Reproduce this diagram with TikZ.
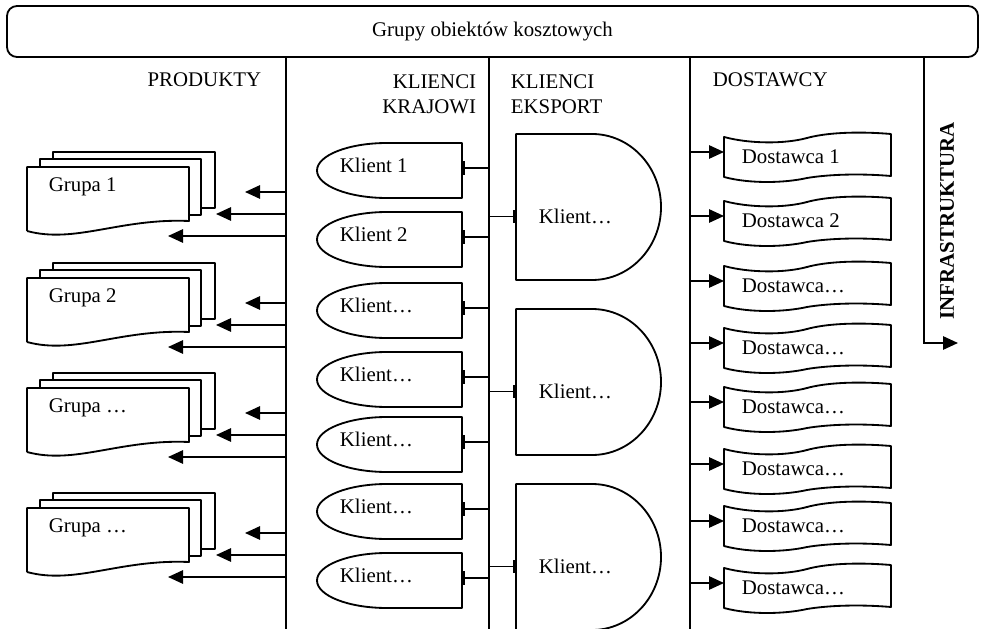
\documentclass[tikz,border=0pt]{standalone}
\usepackage{fontspec}
\setmainfont{Liberation Serif}
\usepackage{tikz}
\usetikzlibrary{arrows.meta}

\begin{document}
\begin{tikzpicture}[x=0.6pt, y=0.6pt, line width=1.1pt,
    font=\fontsize{12.5}{15}\selectfont,
    lbl/.style={inner sep=0pt},
    shp/.style={draw, fill=white, line join=round},
    arr/.style={-{Triangle[length=9pt, width=8pt]}},
    bar/.style={-{Rectangle[length=1.8pt, width=8pt]}}]
    \useasboundingbox (0,0) rectangle (982,-629);

    % naglowek
    \node[draw, rounded corners=6pt, minimum width=582.6pt, minimum height=30.6pt] (top) at (492.5,-31.5) {Grupy obiektów kosztowych};
    \coordinate (l1) at (286,-629);
    \coordinate (l2) at (489,-629);
    \coordinate (l3) at (690,-629);
    \coordinate (l4) at (924,-343);
    \draw (top.south -| l1) -- (l1);
    \draw (top.south -| l2) -- (l2);
    \draw (top.south -| l3) -- (l3);
    \draw[arr] (top.south -| l4) -- (l4) -- ++(34,0);

    \node[lbl, anchor=east] (prod) at (262,-80) {PRODUKTY};
    \node[lbl, anchor=east, align=right] (kraj) at (477,-94.5) {KLIENCI\\KRAJOWI};
    \node[lbl, anchor=west, align=left] (eksp) at (510,-94.5) {KLIENCI\\EKSPORT};
    \node[lbl, anchor=west] (dost) at (712,-80) {DOSTAWCY};
    \node[lbl, rotate=90, font=\fontsize{12.5}{15}\selectfont\bfseries] (infra) at (947,-221) {INFRASTRUKTURA};

    % produkty
    \foreach \t/\txt [count=\i] in {152/Grupa 1, 263/Grupa 2, 373/Grupa …, 493/Grupa …} {
        \draw[shp] (53,-\t-7) -- (53,-\t) -- (215,-\t) -- (215,-\t-56) -- (201,-\t-56);
        \draw[shp] (40,-\t-15) -- (40,-\t-7) -- (201,-\t-7) -- (201,-\t-63) -- (189,-\t-63);
        \draw[shp] (27,-\t-79) -- (27,-\t-15) -- (189,-\t-15) -- (189,-\t-69)
            .. controls (120,-\t-66) and (75,-\t-92) .. (27,-\t-79);
        \node[lbl, anchor=west] (grp\i) at (48,-\t-35) {\txt};
        \coordinate (pa\i) at (286,-\t-40);
        \coordinate (pb\i) at (286,-\t-62);
        \coordinate (pc\i) at (286,-\t-84);
        \draw[arr] (pa\i) -- ++(-41,0);
        \draw[arr] (pb\i) -- ++(-70,0);
        \draw[arr] (pc\i) -- ++(-118,0);
    }

    % klienci krajowi
    \foreach \t/\txt [count=\i] in {143/Klient 1, 212/Klient 2, 283/Klient…, 352/Klient…, 417/Klient…, 484/Klient…, 553/Klient…} {
        \draw[shp] (462,-\t) -- (387,-\t) arc[start angle=90, end angle=270, x radius=70, y radius=27.5] -- (462,-\t-55) -- cycle;
        \node[lbl, anchor=west] (kk\i) at (339,-\t-22) {\txt};
        \coordinate (kke\i) at (462,-\t-25);
        \draw[bar] (l2 |- kke\i) -- (kke\i);
    }

    % klienci eksport
    \foreach \t [count=\i] in {134, 309, 484} {
        \draw[shp] (516,-\t) -- (592,-\t) arc[start angle=90, end angle=-90, x radius=69, y radius=73] -- (516,-\t-146) -- cycle;
        \node[lbl, anchor=west] (ke\i) at (538,-\t-82) {Klient…};
        \coordinate (kew\i) at (516,-\t-82.5);
        \draw[bar] (l2 |- kew\i) -- (kew\i);
    }

    % dostawcy
    \foreach \t/\txt [count=\i] in {132/Dostawca 1, 196/Dostawca 2, 261/Dostawca…, 323/Dostawca…, 382/Dostawca…, 444/Dostawca…, 501/Dostawca…, 563/Dostawca…} {
        \draw[shp] (724,-\t-5) .. controls (750,-\t-12) and (785,-\t-12) .. (807,-\t-6)
            .. controls (825,-\t-1) and (855,-\t+1) .. (891,-\t-2) -- (891,-\t-44)
            .. controls (855,-\t-41) and (825,-\t-43) .. (807,-\t-46)
            .. controls (785,-\t-51) and (750,-\t-52) .. (724,-\t-45) -- cycle;
        \node[lbl, anchor=west] (ds\i) at (741,-\t-25) {\txt};
        \coordinate (dw\i) at (724,-\t-20);
        \draw[arr] (l3 |- dw\i) -- (dw\i);
    }
\end{tikzpicture}
\end{document}
